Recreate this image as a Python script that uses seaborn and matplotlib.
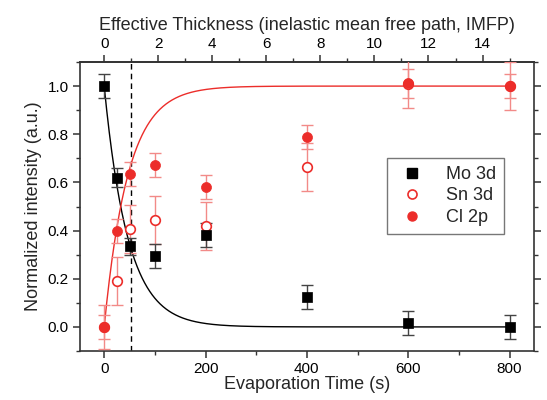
import numpy as np
import pandas as pd
import matplotlib
matplotlib.use("Agg")
import matplotlib.pyplot as plt
from matplotlib.ticker import MultipleLocator
from matplotlib.lines import Line2D
import seaborn as sns

# ---- data ----
time_s = [0, 25, 50, 100, 200, 400, 600, 800]
mo_3d = [1.0, 0.62, 0.335, 0.295, 0.38, 0.126, 0.015, 0.0]
mo_err = [0.05, 0.04, 0.035, 0.05, 0.05, 0.05, 0.05, 0.05]
sn_3d = [0.0, 0.19, 0.405, 0.445, 0.42, 0.665, 1.01, 1.0]
sn_err = [0.09, 0.10, 0.10, 0.10, 0.10, 0.10, 0.10, 0.10]
cl_2p = [0.0, 0.397, 0.635, 0.672, 0.58, 0.79, 1.012, 1.0]
cl_err = [0.05, 0.05, 0.05, 0.05, 0.05, 0.05, 0.06, 0.05]

seconds_per_imfp = 800 / 15      # top-axis conversion
fit_tau = 47.0                   # exponential fit time constant (s)
top_ticks = [0, 2, 4, 6, 8, 10, 12, 14]

RED = "#ec2d2a"
ERR_RED = "#f28a88"

sns.set_theme(style="ticks")
plt.rcParams["font.family"] = ["Liberation Sans", "DejaVu Sans"]

fig = plt.figure(figsize=(5.47, 4.0), dpi=100)
ax = fig.add_axes([0.146, 0.1225, 0.83, 0.7225])

# fit curves
t_fit = np.linspace(0, 800, 801)
fit_df = pd.DataFrame({"t": t_fit,
                       "decay": np.exp(-t_fit / fit_tau),
                       "growth": 1 - np.exp(-t_fit / fit_tau)})
sns.lineplot(data=fit_df, x="t", y="decay", color="black", lw=1.0, ax=ax, zorder=2)
sns.lineplot(data=fit_df, x="t", y="growth", color=RED, lw=1.0, ax=ax, zorder=2)

# dashed line at 1 IMFP
ax.axvline(seconds_per_imfp, color="black", ls=(0, (4, 3)), lw=1.0, zorder=1)

# error bars
ax.errorbar(time_s, sn_3d, yerr=sn_err, fmt="none", ecolor=ERR_RED, elinewidth=1.0,
            capsize=4, capthick=1.0, zorder=3)
ax.errorbar(time_s, cl_2p, yerr=cl_err, fmt="none", ecolor=ERR_RED, elinewidth=1.0,
            capsize=4, capthick=1.0, zorder=3)
ax.errorbar(time_s, mo_3d, yerr=mo_err, fmt="none", ecolor="#444444", elinewidth=1.0,
            capsize=4, capthick=1.0, zorder=3)

# markers
pts = pd.DataFrame({"t": time_s, "mo": mo_3d, "sn": sn_3d, "cl": cl_2p})
sns.scatterplot(data=pts, x="t", y="sn", marker="o", s=48, facecolor="white",
                edgecolor=RED, linewidth=1.2, ax=ax, zorder=4)
sns.scatterplot(data=pts, x="t", y="cl", marker="o", s=52, color=RED,
                edgecolor=RED, linewidth=0.5, ax=ax, zorder=5)
sns.scatterplot(data=pts, x="t", y="mo", marker="s", s=46, color="black",
                edgecolor="black", linewidth=0.5, ax=ax, zorder=5)

ax.set_xlim(-48, 848)
ax.set_ylim(-0.1, 1.1)
ax.set_xticks([0, 200, 400, 600, 800])
ax.xaxis.set_minor_locator(MultipleLocator(100))
ax.set_yticks([0.0, 0.2, 0.4, 0.6, 0.8, 1.0])
ax.yaxis.set_minor_locator(MultipleLocator(0.1))
ax.set_yticklabels([f"{v:.1f}" for v in [0.0, 0.2, 0.4, 0.6, 0.8, 1.0]])
ax.set_xlabel("Evaporation Time (s)", fontsize=13, labelpad=0)
ax.set_ylabel("Normalized intensity (a.u.)", fontsize=13, labelpad=4)

for s in ax.spines.values():
    s.set_visible(True)
    s.set_linewidth(1.2)
    s.set_color("#333333")

ax.tick_params(axis="both", which="major", direction="out", length=5, width=1.1,
               labelsize=11, color="#333333", labelcolor="black", pad=3,
               right=True, labelright=False)
ax.tick_params(axis="both", which="minor", direction="out", length=3, width=1.0,
               color="#333333", right=True)
ax.tick_params(axis="x", which="both", top=False)

# top axis
sec = ax.secondary_xaxis("top", functions=(lambda t: t / seconds_per_imfp,
                                           lambda d: d * seconds_per_imfp))
sec.set_xticks(top_ticks)
sec.xaxis.set_minor_locator(MultipleLocator(1))
sec.tick_params(which="major", direction="out", length=5, width=1.1, labelsize=11,
                color="#333333", labelcolor="black", pad=3)
sec.tick_params(which="minor", direction="out", length=3, width=1.0, color="#333333")
sec.spines["top"].set_linewidth(1.2)
sec.set_xlabel("Effective Thickness (inelastic mean free path, IMFP)", fontsize=13,
               labelpad=5)

# legend
handles = [
    Line2D([], [], ls="none", marker="s", ms=6.5, mfc="black", mec="black"),
    Line2D([], [], ls="none", marker="o", ms=6.5, mfc="white", mec=RED, mew=1.2),
    Line2D([], [], ls="none", marker="o", ms=6.5, mfc=RED, mec=RED),
]
leg = ax.legend(handles, ["Mo 3d", "Sn 3d", "Cl 2p"], loc="upper left",
                bbox_to_anchor=(0.657, 0.70), fontsize=13, frameon=True,
                fancybox=False, edgecolor="#555555", handletextpad=1.0,
                borderpad=0.45, labelspacing=0.25, handlelength=1.8)
leg.get_frame().set_linewidth(1.0)

fig.savefig("out.png", dpi=100)
